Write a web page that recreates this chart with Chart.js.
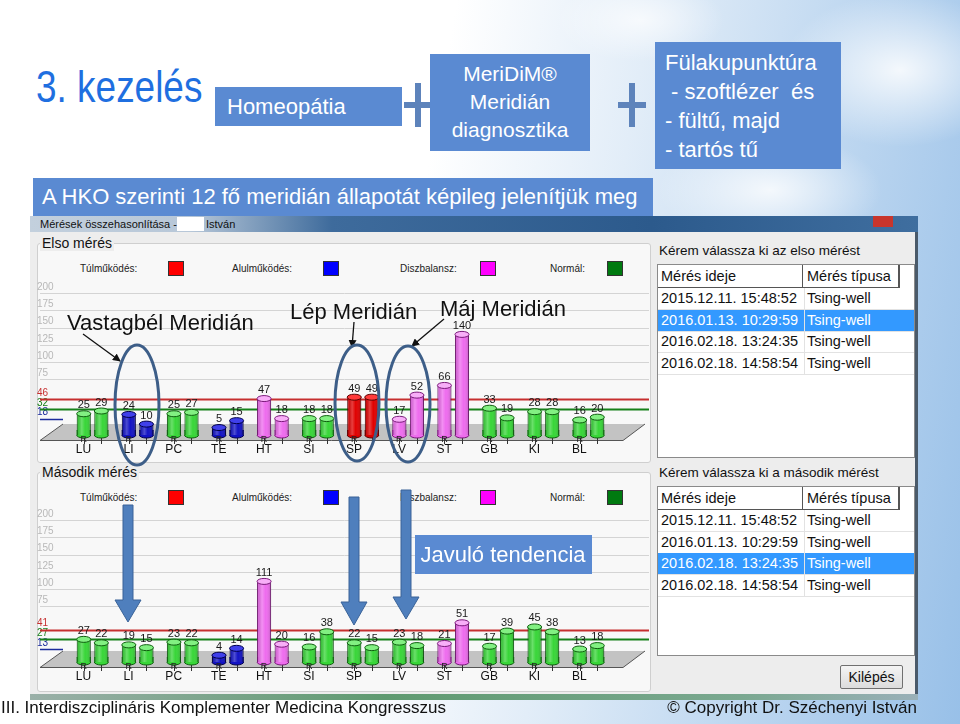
<!DOCTYPE html>
<html>
<head>
<meta charset="utf-8">
<script src="https://cdn.jsdelivr.net/npm/chart.js@4.4.0/dist/chart.umd.min.js"></script>
<style>
  body { margin: 0; }
  #slide {
    position: relative; width: 960px; height: 724px; overflow: hidden;
    font-family: "Liberation Sans", sans-serif;
    background:
      radial-gradient(ellipse 170px 110px at 900px 70px, rgba(255,255,255,0.85), rgba(255,255,255,0) 70%),
      radial-gradient(ellipse 160px 80px at 770px 190px, rgba(255,255,255,0.8), rgba(255,255,255,0) 70%),
      radial-gradient(ellipse 120px 60px at 640px 20px, rgba(255,255,255,0.7), rgba(255,255,255,0) 70%),
      linear-gradient(100deg, #ffffff 0%, #ffffff 42%, #e2edf8 60%, #b9d4ef 82%, #98c0e8 100%);
  }
  .abs { position: absolute; }
  .pbox { position: absolute; background: #5a8ad2; color: #fff; box-sizing: border-box; }
  .grp { position: absolute; background: #f8f8f8; border: 1px solid #cfcfcf; border-radius: 3px; }
  .grpTitle { position: absolute; background: #ededed; padding: 0 2px; font-size: 14px; color: #111; line-height: 16px; }
  .lgTxt { position: absolute; font-size: 10px; color: #222; line-height: 12px; }
  .lgSq { position: absolute; width: 16px; height: 15px; border: 1px solid #333; box-sizing: border-box; }
  .tbl { position: absolute; background: #fff; border: 1px solid #8a8a8a; font-size: 14.5px; color: #111; }
  .row { position: absolute; left: 0; width: 256px; height: 21px; border-bottom: 1px solid #e2e2e2; line-height: 21px; }
  .row span { position: absolute; }
  .row .c1 { left: 3px; } .row .c2 { left: 149px; }
  .row .sep { left: 146px; top: 0; width: 1px; height: 21px; background: #e2e2e2; }
  .row.sel { background: #3399ff; color: #fff; }
  .hdr { position: absolute; left: 0; top: 0; width: 240px; height: 22px; line-height: 22px; border-bottom: 1px solid #555; border-right: 2px solid #555; }
  .hdr span { position: absolute; }
  canvas { position: absolute; }
</style>
</head>
<body>
<div id="slide">
  <!-- slide header -->
  <div class="abs" style="left:36px;top:61px;font-size:44px;color:#1f6fe0;line-height:52px;transform:scaleX(0.84);transform-origin:0 0;white-space:nowrap;">3. kezelés</div>
  <div class="pbox" style="left:215px;top:87px;width:187px;height:39px;font-size:22px;line-height:39px;padding-left:12px;">Homeopátia</div>
  <svg class="abs" style="left:0;top:0;" width="960" height="180">
    <rect x="404" y="102" width="28" height="6" fill="#5d83bb"/>
    <rect x="415" y="83" width="6" height="44" fill="#5d83bb"/>
    <rect x="618" y="102" width="28" height="6" fill="#5d83bb"/>
    <rect x="629" y="83" width="6" height="44" fill="#5d83bb"/>
  </svg>
  <div class="pbox" style="left:430px;top:54px;width:160px;height:97px;font-size:21px;line-height:28px;text-align:center;padding-top:6px;">MeriDiM®<br>Meridián<br>diagnosztika</div>
  <div class="pbox" style="left:655px;top:42px;width:186px;height:127px;font-size:22px;line-height:29px;padding:6px 0 0 10px;white-space:pre;">Fülakupunktúra
 - szoftlézer  és
- fültű, majd
- tartós tű</div>
  <div class="pbox" style="left:33px;top:178px;width:620px;height:38px;font-size:22px;line-height:38px;padding-left:9px;">A HKO szerinti 12 fő meridián állapotát képileg jelenítjük meg</div>

  <!-- screenshot window -->
  <div class="abs" style="left:30px;top:216px;width:888px;height:16px;background:linear-gradient(90deg,#c3d0dd 0%,#b7c7d8 18%,#3e6b9c 34%,#2c5a8c 70%,#3f6e9f 100%);"></div>
  <div class="abs" style="left:40px;top:217px;font-size:11px;color:#111;line-height:14px;">Mérések összehasonlítása -</div>
  <div class="abs" style="left:177px;top:217px;width:27px;height:14px;background:#fff;"></div>
  <div class="abs" style="left:206px;top:217px;font-size:11px;color:#111;line-height:14px;">István</div>
  <div class="abs" style="left:873px;top:216px;width:20px;height:11px;background:#c8352c;"></div>
  <div class="abs" style="left:30px;top:232px;width:885px;height:466px;background:#ededed;border-right:3px solid #4a5a6a;"></div>
  <div class="abs" style="left:30px;top:694px;width:888px;height:6px;background:linear-gradient(90deg,#9ab0a8,#5f9a70 40%,#7aa890 80%,#9ab0b8);"></div>

  <!-- group boxes -->
  <div class="grp" style="left:37px;top:243px;width:612px;height:218px;"></div>
  <div class="grpTitle" style="left:40px;top:235px;">Elso mérés</div>
  <div class="grp" style="left:37px;top:472px;width:612px;height:218px;"></div>
  <div class="grpTitle" style="left:40px;top:464px;">Második mérés</div>

  <!-- legends -->
  <div class="lgTxt" style="left:80px;top:263px;">Túlműködés:</div>
  <div class="lgSq" style="left:168px;top:261px;background:#ff0000;"></div>
  <div class="lgTxt" style="left:232px;top:263px;">Alulműködés:</div>
  <div class="lgSq" style="left:323px;top:261px;background:#0000ff;"></div>
  <div class="lgTxt" style="left:400px;top:263px;">Diszbalansz:</div>
  <div class="lgSq" style="left:480px;top:261px;background:#ff00ff;"></div>
  <div class="lgTxt" style="left:550px;top:263px;">Normál:</div>
  <div class="lgSq" style="left:607px;top:261px;background:#007a10;"></div>

  <div class="lgTxt" style="left:80px;top:492px;">Túlműködés:</div>
  <div class="lgSq" style="left:168px;top:490px;background:#ff0000;"></div>
  <div class="lgTxt" style="left:232px;top:492px;">Alulműködés:</div>
  <div class="lgSq" style="left:323px;top:490px;background:#0000ff;"></div>
  <div class="lgTxt" style="left:400px;top:492px;">Diszbalansz:</div>
  <div class="lgSq" style="left:480px;top:490px;background:#ff00ff;"></div>
  <div class="lgTxt" style="left:550px;top:492px;">Normál:</div>
  <div class="lgSq" style="left:607px;top:490px;background:#007a10;"></div>

  <canvas id="firstChart" width="613" height="180" style="left:37px;top:280px;"></canvas>
  <canvas id="secondChart" width="613" height="180" style="left:37px;top:507px;"></canvas>

  <!-- right side lists -->
  <div class="abs" style="left:659px;top:243px;font-size:13.5px;color:#111;">Kérem válassza ki az elso mérést</div>
  <div class="tbl" id="tbl1" style="left:657px;top:264px;width:256px;height:192px;"></div>
  <div class="abs" style="left:659px;top:465px;font-size:13.5px;color:#111;">Kérem válassza ki a második mérést</div>
  <div class="tbl" id="tbl2" style="left:657px;top:486px;width:256px;height:168px;"></div>
  <div class="abs" style="left:840px;top:665px;width:63px;height:24px;box-sizing:border-box;border:1px solid #707070;border-radius:2px;background:linear-gradient(#f4f4f4,#dcdcdc);font-size:14px;line-height:22px;text-align:center;color:#111;">Kilépés</div>

  <!-- annotations -->
  <svg class="abs" style="left:0;top:0;" width="960" height="724">
    <defs>
      <marker id="ah" markerWidth="8" markerHeight="8" refX="7" refY="4" orient="auto" markerUnits="userSpaceOnUse">
        <path d="M0,0 L8,4 L0,8 z" fill="#111"/>
      </marker>
    </defs>
    <text x="67" y="330" font-family="Liberation Sans, sans-serif" font-size="22" fill="#111">Vastagbél Meridián</text>
    <line x1="83" y1="334" x2="120" y2="361" stroke="#111" stroke-width="1.3" marker-end="url(#ah)"/>
    <text x="290" y="319" font-family="Liberation Sans, sans-serif" font-size="22" fill="#111">Lép Meridián</text>
    <line x1="354" y1="322" x2="352" y2="347" stroke="#111" stroke-width="1.3" marker-end="url(#ah)"/>
    <text x="440" y="316" font-family="Liberation Sans, sans-serif" font-size="22" fill="#111">Máj Meridián</text>
    <line x1="444" y1="319" x2="412" y2="346" stroke="#111" stroke-width="1.3" marker-end="url(#ah)"/>
    <ellipse cx="137" cy="405" rx="22" ry="60" fill="none" stroke="#3d5e88" stroke-width="3"/>
    <ellipse cx="357" cy="403" rx="22" ry="58" fill="none" stroke="#3d5e88" stroke-width="3"/>
    <ellipse cx="408" cy="404" rx="22" ry="58" fill="none" stroke="#3d5e88" stroke-width="3"/>

    <path d="M123,505 L133,505 L133,600 L141,600 L128,622 L115,600 L123,600 z" fill="#4f7fbd" stroke="#3a6398" stroke-width="1"/>
    <path d="M349,497 L359,497 L359,602 L367,602 L354,625 L341,602 L349,602 z" fill="#4f7fbd" stroke="#3a6398" stroke-width="1"/>
    <path d="M401,490 L411,490 L411,597 L419,597 L406,619 L393,597 L401,597 z" fill="#4f7fbd" stroke="#3a6398" stroke-width="1"/>
    <rect x="415" y="535" width="177" height="39" fill="#5a8ad2"/>
    <text x="503" y="562" text-anchor="middle" font-family="Liberation Sans, sans-serif" font-size="22" fill="#fff">Javuló tendencia</text>
  </svg>

  <!-- footer -->
  <div class="abs" style="left:1px;top:696px;font-size:17px;color:#111;line-height:24px;">III. Interdiszciplináris Komplementer Medicina Kongresszus</div>
  <div class="abs" style="right:43px;top:696px;font-size:17px;color:#111;line-height:24px;">© Copyright Dr. Széchenyi István</div>
</div>

<script>
// 12 fő meridián
var meridians = ["LU", "LI", "PC", "TE", "HT", "SI", "SP", "LV", "ST", "GB", "KI", "BL"];

// Elso mérés (2016.01.13. 10:29:59)
var firstR = [25, 24, 25, 5, 47, 18, 49, 17, 66, 33, 28, 16];
var firstT = [29, 10, 27, 15, 18, 18, 49, 52, 140, 19, 28, 20];
var firstState = ["n", "u", "n", "u", "d", "n", "t", "d", "d", "n", "n", "n"];
var firstLimits = [18, 32, 46];

// Második mérés (2016.02.18. 13:24:35)
var secondR = [27, 19, 23, 4, 111, 16, 22, 23, 21, 17, 45, 13];
var secondT = [22, 15, 22, 14, 20, 38, 15, 18, 51, 39, 38, 18];
var secondState = ["n", "n", "n", "u", "d", "n", "n", "n", "d", "n", "n", "n"];
var secondLimits = [13, 27, 41];

var scaleTicks = [75, 100, 125, 150, 175, 200];

// measurement lists on the right
var measTimes = ["2015.12.11. 15:48:52", "2016.01.13. 10:29:59", "2016.02.18. 13:24:35", "2016.02.18. 14:58:54"];
var measType = "Tsing-well";

// n = normál, u = alulműködés, d = diszbalansz, t = túlműködés
var stateStyle = {
  n: { body: "#38d638", cap: "#82f082", edge: "#0e5e0e" },
  u: { body: "#1212c4", cap: "#4040ea", edge: "#00004a" },
  d: { body: "#ee6cee", cap: "#f8aef8", edge: "#7a1a7a" },
  t: { body: "#e00000", cap: "#ff3a3a", edge: "#5a0000" }
};
var limitColors = ["#1c2c9c", "#17801a", "#c62f2f"];

Chart.defaults.font.family = '"Liberation Sans", sans-serif';

var meridianPlugin = {
  id: "meridian",
  beforeDatasetsDraw: function(chart, args, opts) {
    var ctx = chart.ctx, a = chart.chartArea, y = chart.scales.y;
    var base = y.getPixelForValue(0);
    ctx.save();
    y.ticks.forEach(function(t) {
      var py = Math.round(y.getPixelForValue(t.value)) + 0.5;
      var i = opts.limits.indexOf(t.value);
      ctx.beginPath();
      if (i === 0) {
        ctx.moveTo(3, py); ctx.lineTo(a.left - 7, py);
        ctx.strokeStyle = limitColors[0]; ctx.lineWidth = 1.5;
      } else if (i > 0) {
        ctx.moveTo(3, py); ctx.lineTo(a.right + 38, py);
        ctx.strokeStyle = limitColors[i]; ctx.lineWidth = 2;
      } else {
        ctx.moveTo(3, py); ctx.lineTo(a.right + 38, py);
        ctx.strokeStyle = "#d4d4d4"; ctx.lineWidth = 1;
      }
      ctx.stroke();
    });
    // floor of the 3D chart
    var ft = base - 7, fb = base + 9.5;
    ctx.beginPath();
    ctx.moveTo(a.left - 7, ft);
    ctx.lineTo(a.right + 34, ft);
    ctx.lineTo(a.right + 12, fb);
    ctx.lineTo(3, fb);
    ctx.closePath();
    ctx.fillStyle = "#c3c3c3";
    ctx.fill();
    ctx.strokeStyle = "#555";
    ctx.lineWidth = 1;
    ctx.beginPath();
    ctx.moveTo(a.left - 7, ft); ctx.lineTo(3, fb); ctx.lineTo(a.right + 12, fb); ctx.lineTo(a.right + 34, ft);
    ctx.stroke();
    ctx.restore();
  },
  afterDatasetsDraw: function(chart, args, opts) {
    var ctx = chart.ctx;
    ctx.save();
    chart.data.datasets.forEach(function(ds, di) {
      chart.getDatasetMeta(di).data.forEach(function(bar, i) {
        var st = stateStyle[opts.states[i]];
        var x = bar.x, top = bar.y, rx = bar.width / 2, ry = 3;
        var bot = bar.base + 4;
        // extend body down to the cylinder bottom
        ctx.fillStyle = st.body;
        ctx.fillRect(x - rx, bar.base - 1, rx * 2, 5);
        ctx.strokeStyle = st.edge;
        ctx.lineWidth = 1;
        ctx.beginPath();
        ctx.moveTo(x - rx + 0.5, bar.base - 1); ctx.lineTo(x - rx + 0.5, bot);
        ctx.moveTo(x + rx - 0.5, bar.base - 1); ctx.lineTo(x + rx - 0.5, bot);
        ctx.stroke();
        // shading
        var g = ctx.createLinearGradient(x - rx, 0, x + rx, 0);
        g.addColorStop(0, "rgba(0,0,0,0.12)");
        g.addColorStop(0.35, "rgba(255,255,255,0.25)");
        g.addColorStop(0.6, "rgba(255,255,255,0)");
        g.addColorStop(1, "rgba(0,0,0,0.2)");
        ctx.fillStyle = g;
        ctx.fillRect(x - rx, top, rx * 2, bot - top);
        // stem
        ctx.strokeStyle = "#333";
        ctx.beginPath(); ctx.moveTo(Math.round(x) + 0.5, bot + ry); ctx.lineTo(Math.round(x) + 0.5, bot + 9); ctx.stroke();
        // bottom
        ctx.beginPath(); ctx.ellipse(x, bot, rx, ry, 0, 0, Math.PI);
        ctx.fillStyle = st.body; ctx.fill();
        ctx.strokeStyle = st.edge; ctx.stroke();
        // top cap
        ctx.beginPath(); ctx.ellipse(x, top, rx, ry, 0, 0, 2 * Math.PI);
        ctx.fillStyle = st.cap; ctx.fill();
        ctx.strokeStyle = st.edge; ctx.stroke();
        // value
        ctx.fillStyle = "#1a1a1a";
        ctx.font = '11px "Liberation Sans", sans-serif';
        ctx.textAlign = "center";
        ctx.textBaseline = "bottom";
        ctx.fillText(ds.data[i], x, top - ry);
        if (di === 0) {
          ctx.font = '9px "Liberation Sans", sans-serif';
          ctx.textBaseline = "top";
          ctx.fillStyle = "#222";
          ctx.fillText("R", x, bot);
        }
      });
    });
    ctx.restore();
  }
};

function buildChart(id, rVals, tVals, states, limits) {
  var bodies = states.map(function(s) { return stateStyle[s].body; });
  var edges = states.map(function(s) { return stateStyle[s].edge; });
  var barStyle = {
    backgroundColor: bodies,
    borderColor: edges,
    borderWidth: { left: 1, right: 1, top: 0, bottom: 0 },
    borderSkipped: false,
    categoryPercentage: 0.78,
    barPercentage: 0.8
  };
  return new Chart(document.getElementById(id), {
    type: "bar",
    data: {
      labels: meridians,
      datasets: [
        Object.assign({ label: "R", data: rVals }, barStyle),
        Object.assign({ label: "T", data: tVals }, barStyle)
      ]
    },
    options: {
      responsive: false,
      animation: false,
      layout: { padding: { top: 13, right: 39, left: 0, bottom: 0 } },
      plugins: {
        legend: { display: false },
        tooltip: { enabled: false },
        meridian: { limits: limits, states: states }
      },
      scales: {
        x: {
          grid: { display: false, drawTicks: false },
          border: { display: false },
          afterFit: function(s) { s.height = 29; },
          ticks: { color: "#111", font: { size: 12 }, padding: 11, labelOffset: -9, maxRotation: 0, autoSkip: false }
        },
        y: {
          min: 0, max: 200,
          afterBuildTicks: function(s) {
            s.ticks = limits.concat(scaleTicks).map(function(v) { return { value: v }; });
          },
          afterFit: function(s) { s.width = 33; },
          grid: { display: false },
          border: { display: false },
          ticks: {
            crossAlign: "far",
            padding: 3,
            labelOffset: -6,
            font: { size: 10 },
            color: function(c) {
              var i = limits.indexOf(c.tick.value);
              return i < 0 ? "#b8b8b8" : limitColors[i];
            }
          }
        }
      }
    },
    plugins: [meridianPlugin]
  });
}

buildChart("firstChart", firstR, firstT, firstState, firstLimits);
buildChart("secondChart", secondR, secondT, secondState, secondLimits);

function fillTable(id, selected) {
  var t = document.getElementById(id);
  var html = '<div class="hdr"><span style="left:3px">Mérés ideje</span><span style="left:149px;">Mérés típusa</span>' +
    '<span style="left:144px;top:0;width:1px;height:22px;background:#555;"></span></div>';
  measTimes.forEach(function(m, i) {
    html += '<div class="row' + (i === selected ? ' sel' : '') + '" style="top:' + (23 + i * 21.7) + 'px;">' +
      '<span class="c1">' + m + '</span><span class="sep"></span><span class="c2">' + measType + '</span></div>';
  });
  t.innerHTML = html;
}
fillTable("tbl1", 1);
fillTable("tbl2", 2);
</script>
</body>
</html>
